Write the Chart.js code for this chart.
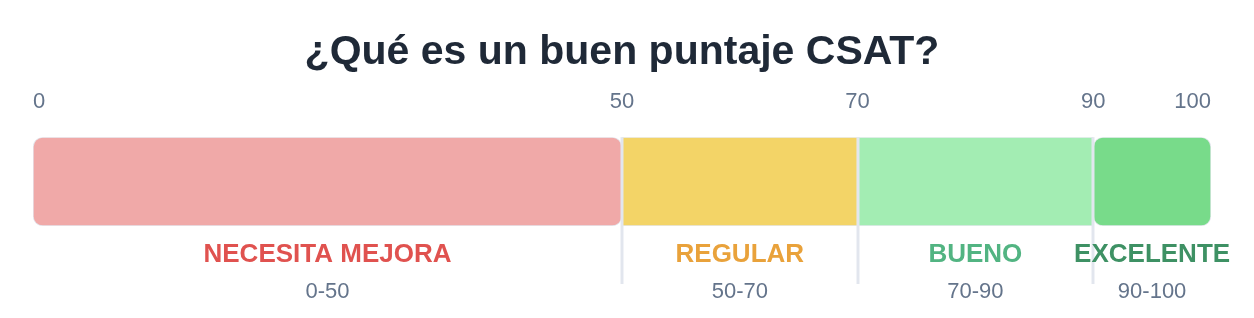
<!DOCTYPE html>
<html lang="es">
<head>
<meta charset="utf-8">
<title>CSAT</title>
<script src="https://cdn.jsdelivr.net/npm/chart.js@4/dist/chart.umd.min.js"></script>
<style>
  html, body { margin: 0; padding: 0; background: #ffffff; }
  #wrap { width: 1254px; height: 318px; position: relative; }
</style>
</head>
<body>
<div id="wrap"><canvas id="csatChart"></canvas></div>
<script>
// Datos del gráfico
const tituloGrafico = '¿Qué es un buen puntaje CSAT?';
const segmentLabels = ['NECESITA MEJORA', 'REGULAR', 'BUENO', 'EXCELENTE'];
const segmentRanges = ['0-50', '50-70', '70-90', '90-100'];
const segmentValues = [50, 20, 20, 10];
const tickValues = [0, 50, 70, 90, 100];
const separatorValues = [50, 70, 90];

// Estilos
const fillColors = ['#f0a9a8', '#f3d467', '#a3edb3', '#78db8a'];
const textColors = ['#e0524f', '#e9a23b', '#52b482', '#3e9164'];
const cornerRadius = [10, 0, 0, 10];
const FONT = "'Liberation Sans', Arial, sans-serif";

// cada tramo como barra flotante [inicio, fin] (así el primero también lleva esquinas redondeadas)
let acumulado = 0;
const datasets = segmentValues.map((v, i) => {
    const tramo = [acumulado, acumulado + v];
    acumulado += v;
    return {
        label: segmentLabels[i],
        data: [tramo],
        backgroundColor: fillColors[i],
        borderColor: '#e6e9ef',
        borderWidth: 1,
        borderRadius: cornerRadius[i],
        borderSkipped: false,
        barPercentage: 1,
        categoryPercentage: 1
    };
});

// Líneas separadoras y textos bajo la barra
const bandasPlugin = {
    id: 'bandas',
    afterDatasetsDraw(chart) {
        const { ctx, chartArea, scales: { x } } = chart;
        ctx.save();
        ctx.strokeStyle = '#e2e6ee';
        ctx.lineWidth = 3;
        separatorValues.forEach(v => {
            const px = Math.round(x.getPixelForValue(v));
            ctx.beginPath();
            ctx.moveTo(px, chartArea.top);
            ctx.lineTo(px, chartArea.bottom + 58);
            ctx.stroke();
        });

        let acc = 0;
        ctx.textAlign = 'center';
        ctx.textBaseline = 'middle';
        segmentValues.forEach((v, i) => {
            const cx = x.getPixelForValue(acc + v / 2);
            acc += v;
            ctx.fillStyle = textColors[i];
            ctx.font = `bold 26px ${FONT}`;
            ctx.fillText(segmentLabels[i], cx, chartArea.bottom + 29);
            ctx.fillStyle = '#64748b';
            ctx.font = `22px ${FONT}`;
            ctx.fillText(segmentRanges[i], cx, chartArea.bottom + 66);
        });
        ctx.restore();
    }
};

new Chart(document.getElementById('csatChart'), {
    type: 'bar',
    data: { labels: [''], datasets },
    options: {
        indexAxis: 'y',
        responsive: true,
        maintainAspectRatio: false,
        animation: false,
        layout: { padding: { left: 33, right: 43, top: 0, bottom: 92 } },
        plugins: {
            legend: { display: false },
            tooltip: { enabled: false },
            title: {
                display: true,
                text: tituloGrafico,
                color: '#1f2937',
                font: { family: FONT, size: 41, weight: 'bold' },
                padding: { top: 28, bottom: 12 }
            }
        },
        scales: {
            x: {
                position: 'top',
                min: 0,
                max: 100,
                afterBuildTicks: axis => { axis.ticks = tickValues.map(v => ({ value: v })); },
                afterFit: axis => { axis.height = 48; },
                ticks: {
                    align: 'inner',
                    color: '#64748b',
                    padding: 22,
                    font: { family: FONT, size: 22 },
                    autoSkip: false,
                    maxRotation: 0
                },
                grid: { display: false, drawTicks: false },
                border: { display: false }
            },
            y: {
                stacked: true,
                display: false
            }
        }
    },
    plugins: [bandasPlugin]
});
</script>
</body>
</html>
